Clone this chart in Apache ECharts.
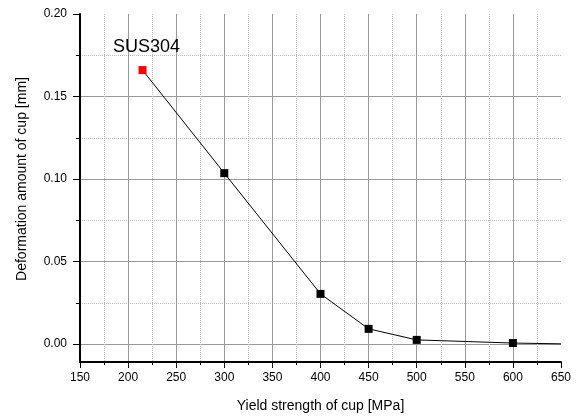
<!DOCTYPE html>
<html>
<head>
<meta charset="utf-8">
<script src="https://cdn.jsdelivr.net/npm/echarts@6/dist/echarts.min.js"></script>
<style>
  html, body { margin: 0; padding: 0; background: #fff; }
  #container { width: 585px; height: 418px; }
</style>
</head>
<body>
<div id="container"></div>
<script>
var myChart = echarts.init(document.getElementById('container'));

// yield strength of cup [MPa] and deformation [mm]
var yieldStrength = [215, 300, 400, 450, 500, 600, 650];
var deformation = [0.166, 0.1035, 0.0303, 0.0091, 0.0024, 0.0005, 0.0];
var pointLabels = ['SUS304', '', '', '', '', '', ''];

// axis ranges: [min, max, interval]
var xRange = [150, 650, 50];
var yTickRange = [0, 0.20, 0.05];
var yFloor = -0.011; // plot area reaches a little below 0

var font = 'Liberation Sans, Arial, sans-serif';

var seriesData = yieldStrength.map(function (x, i) {
  var item = { value: [x, deformation[i]] };
  if (i === 0) {
    item.itemStyle = { color: '#ff0000' };
    item.label = {
      show: true,
      formatter: pointLabels[i],
      position: 'top',
      distance: 10,
      offset: [4, 0],
      color: '#000',
      fontSize: 18,
      fontFamily: font
    };
  }
  if (i === yieldStrength.length - 1) {
    item.symbolSize = 0;
  }
  return item;
});

var option = {
  backgroundColor: '#fff',
  animation: false,
  grid: [
    // grid 0: full plot area, carries the data and the x axis
    { left: 80, right: 24, top: 14, bottom: 56 },
    // grid 1: from 0.20 down to 0.00, carries the y ticks and labels
    { left: 80, right: 24, top: 14, bottom: 74 }
  ],
  xAxis: [
    {
      gridIndex: 0,
      type: 'value',
      min: xRange[0],
      max: xRange[1],
      interval: xRange[2],
      name: 'Yield strength of cup [MPa]',
      nameLocation: 'middle',
      nameGap: 37,
      nameTextStyle: { color: '#000', fontSize: 14, fontFamily: font },
      axisLine: { onZero: false, lineStyle: { color: '#000', width: 2 } },
      axisTick: { length: 6, lineStyle: { color: '#000' } },
      minorTick: { show: true, splitNumber: 2, length: 3, lineStyle: { color: '#000' } },
      axisLabel: { color: '#000', fontSize: 12, margin: 10, fontFamily: font },
      splitLine: { show: true, showMinLine: false, showMaxLine: false, lineStyle: { color: '#999', width: 1 } },
      minorSplitLine: { show: true, lineStyle: { color: '#bbb', type: 'dotted' } }
    },
    {
      gridIndex: 1,
      type: 'value',
      min: xRange[0],
      max: xRange[1],
      show: false
    }
  ],
  yAxis: [
    {
      gridIndex: 0,
      type: 'value',
      min: yFloor,
      max: yTickRange[1],
      axisLine: { show: true, onZero: false, lineStyle: { color: '#000', width: 2 } },
      axisTick: { show: false },
      axisLabel: { show: false },
      splitLine: { show: false }
    },
    {
      gridIndex: 1,
      type: 'value',
      min: yTickRange[0],
      max: yTickRange[1],
      interval: yTickRange[2],
      name: 'Deformation amount of cup [mm]',
      nameLocation: 'middle',
      nameGap: 51,
      nameTextStyle: { color: '#000', fontSize: 14, fontFamily: font },
      axisLine: { show: false, onZero: false },
      axisTick: { show: true, length: 7, lineStyle: { color: '#000' } },
      minorTick: { show: true, splitNumber: 2, length: 4, lineStyle: { color: '#000' } },
      axisLabel: {
        color: '#000', fontSize: 12, margin: 13, fontFamily: font,
        formatter: function (v) { return v.toFixed(2); }
      },
      splitLine: { show: true, showMaxLine: false, lineStyle: { color: '#999', width: 1 } },
      minorSplitLine: { show: true, lineStyle: { color: '#bbb', type: 'dotted' } }
    }
  ],
  series: [
    {
      type: 'line',
      xAxisIndex: 0,
      yAxisIndex: 0,
      data: seriesData,
      symbol: 'rect',
      symbolSize: 8,
      itemStyle: { color: '#000' },
      lineStyle: { color: '#000', width: 1 }
    }
  ]
};

myChart.setOption(option);
</script>
</body>
</html>
